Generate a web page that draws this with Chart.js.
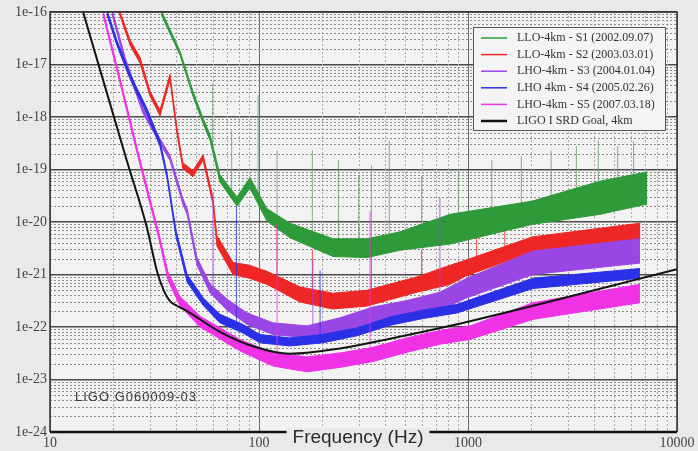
<!DOCTYPE html>
<html><head><meta charset="utf-8">
<script src="https://cdn.jsdelivr.net/npm/chart.js@4.4.0/dist/chart.umd.min.js"></script>
<style>html,body{margin:0;padding:0;background:#e9e9e9;overflow:hidden}</style>
</head><body>
<canvas id="c" width="698" height="451"></canvas>
<script>
// ---- tick labels ----
const xTickValues = [10, 100, 1000, 10000];
const xTickLabels = ['10', '100', '1000', '10000'];
const yTickValues = [1e-24, 1e-23, 1e-22, 1e-21, 1e-20, 1e-19, 1e-18, 1e-17, 1e-16];
const yTickLabels = ['1e-24', '1e-23', '1e-22', '1e-21', '1e-20', '1e-19', '1e-18', '1e-17', '1e-16'];
const minorMultipliers = [2, 3, 4, 5, 6, 7, 8, 9];

const seriesLabels = ['LLO-4km - S1 (2002.09.07)', 'LLO-4km - S2 (2003.03.01)', 'LHO-4km - S3 (2004.01.04)',
  'LHO 4km - S4 (2005.02.26)', 'LHO-4km - S5 (2007.03.18)', 'LIGO I SRD Goal, 4km'];

// ---- S1 (green) ----
const s1Freq  = [34, 41.9, 48.3, 54.0, 58.3, 65.0, 78.5, 90.5, 109, 140.6, 226, 329, 473, 821, 2030, 4282, 7200];
const s1Upper = [1.1e-16, 1.8e-17, 3.1e-18, 9.5e-19, 4.6e-19, 8.0e-20, 3.0e-20, 7.0e-20, 1.8e-20, 9.5e-21, 4.8e-21, 4.8e-21, 6.5e-21, 1.4e-20, 2.5e-20, 6.0e-20, 9.0e-20];
const s1Lower = [0.9e-16, 1.5e-17, 2.5e-18, 7.5e-19, 3.6e-19, 5.8e-20, 2.0e-20, 4.4e-20, 1.05e-20, 5.0e-21, 2.2e-21, 2.1e-21, 2.9e-21, 3.8e-21, 9.0e-21, 1.4e-20, 2.2e-20];
const s1SpikeFreq = [60, 74, 99, 122, 180, 240, 300, 345, 420, 600, 900, 1300, 1800, 2500, 3300, 4200, 5200, 6200];
const s1SpikeLow  = [3e-19, 2.8e-20, 3e-20, 1e-20, 5e-21, 3.5e-21, 3.2e-21, 3.2e-21, 4e-21, 5.5e-21, 7e-21, 9.5e-21, 1.3e-20, 1.8e-20, 2.3e-20, 2.8e-20, 3.4e-20, 4e-20];
const s1SpikeHigh = [4.4e-18, 5.5e-19, 2.6e-18, 2.3e-19, 2.3e-19, 1.5e-19, 7.6e-20, 1.2e-19, 3.5e-19, 7.6e-20, 9.5e-20, 1.5e-19, 1.8e-19, 2.3e-19, 2.8e-19, 3.5e-19, 2.8e-19, 3.5e-19];

// ---- S2 (red) ----
const s2Freq  = [21, 24.2, 27.0, 30.1, 33.6, 37.5, 40.5, 43.2, 48.3, 54.0, 60.2, 62.9, 75.1, 90, 109, 157, 225, 328, 570, 821, 985, 2030, 4282, 6680];
const s2Upper = [1.4e-16, 2.9e-17, 1.35e-17, 3.1e-18, 1.35e-18, 6.5e-18, 6.2e-19, 1.35e-19, 9.5e-20, 1.9e-19, 2.9e-20, 5.5e-21, 1.7e-21, 1.5e-21, 1.15e-21, 5.8e-22, 4.4e-22, 5.0e-22, 9.0e-22, 1.5e-21, 1.9e-21, 5.2e-21, 7.6e-21, 9.5e-21];
const s2Lower = [1.2e-16, 2.3e-17, 1.05e-17, 2.5e-18, 1.05e-18, 5.1e-18, 4.8e-19, 1.05e-19, 7.3e-20, 1.5e-19, 2.2e-20, 3.5e-21, 1.0e-21, 8.5e-22, 6.5e-22, 3.0e-22, 2.2e-22, 2.5e-22, 4.6e-22, 6.5e-22, 9.5e-22, 2.7e-21, 3.9e-21, 4.8e-21];
const s2SpikeFreq = [122, 180, 345, 600, 1100, 1500];
const s2SpikeLow  = [7e-22, 4e-22, 3.4e-22, 6.5e-22, 1.5e-21, 2.3e-21];
const s2SpikeHigh = [9e-21, 3e-21, 4.4e-21, 3e-21, 5e-21, 7e-21];

// ---- S3 (purple) ----
const s3Freq  = [19.8, 22.9, 27.9, 33.6, 37.5, 43.2, 45.3, 50.5, 58.3, 70.3, 87.7, 116.7, 170, 244, 351, 511, 734, 988, 2047, 6650];
const s3Upper = [1.12e-16, 1.35e-17, 1.45e-18, 3.9e-19, 1.85e-19, 2.8e-20, 1.8e-20, 2.1e-21, 6.6e-22, 3.4e-22, 1.85e-22, 1.2e-22, 1.05e-22, 1.5e-22, 2.4e-22, 3.2e-22, 4.6e-22, 8.5e-22, 2.8e-21, 4.8e-21];
const s3Lower = [0.9e-16, 1.07e-17, 1.15e-18, 3.1e-19, 1.48e-19, 2.2e-20, 1.4e-20, 1.5e-21, 4.5e-22, 2.1e-22, 1.12e-22, 7.2e-23, 6.2e-23, 8.2e-23, 1.25e-22, 1.55e-22, 2.1e-22, 3.6e-22, 1.0e-21, 1.65e-21];
const s3SpikeFreq = [60.2, 181, 734];
const s3SpikeLow  = [5e-22, 8e-23, 2.5e-22];
const s3SpikeHigh = [3.5e-20, 2e-21, 2.9e-20];

// ---- S4 (blue) ----
const s4Freq  = [18.7, 20.9, 24.2, 29.1, 33.6, 36.3, 40.0, 45.3, 54.0, 65.0, 83.8, 101, 140.6, 202, 294, 424, 610, 885, 2047, 6650];
const s4Upper = [1.12e-16, 2.9e-17, 6.5e-18, 1.45e-18, 3.5e-19, 8.5e-20, 7.2e-21, 1.0e-21, 3.6e-22, 1.75e-22, 1.12e-22, 7.2e-23, 6.2e-23, 7.2e-23, 9.7e-23, 1.55e-22, 2.1e-22, 2.7e-22, 8.5e-22, 1.3e-21];
const s4Lower = [0.9e-16, 2.3e-17, 5.2e-18, 1.15e-18, 2.75e-19, 6.8e-20, 5.5e-21, 7.2e-22, 2.6e-22, 1.2e-22, 7.7e-23, 5.0e-23, 4.35e-23, 5.0e-23, 6.8e-23, 1.08e-22, 1.45e-22, 1.85e-22, 5.4e-22, 8.5e-22];
const s4SpikeFreq = [78, 196];
const s4SpikeLow  = [9e-23, 5.5e-23];
const s4SpikeHigh = [2e-20, 1.2e-21];

// ---- S5 (magenta) ----
const s5Freq  = [17.9, 21.6, 26.1, 30.1, 33.6, 36.7, 41.9, 52.3, 81.1, 116.7, 170, 244, 351, 511, 734, 1023, 2047, 6650];
const s5Upper = [1.12e-16, 5.6e-18, 2.6e-19, 2.8e-20, 5.0e-21, 1.1e-21, 3.8e-22, 1.6e-22, 5.8e-23, 3.2e-23, 2.7e-23, 3.2e-23, 4.1e-23, 6.2e-23, 8.6e-23, 1.05e-22, 2.9e-22, 6.5e-22];
const s5Lower = [0.9e-16, 4.5e-18, 2.05e-19, 2.2e-20, 3.9e-21, 7.8e-22, 2.5e-22, 1.0e-22, 3.5e-23, 1.8e-23, 1.4e-23, 1.7e-23, 2.2e-23, 3.3e-23, 4.7e-23, 5.8e-23, 1.4e-22, 2.9e-22];
const s5SpikeFreq = [122, 340];
const s5SpikeLow  = [2.5e-23, 3.0e-23];
const s5SpikeHigh = [9e-21, 1.6e-20];

// ---- SRD goal (black) ----
const goalFreq = [14.4, 23.3, 29.1, 32.5, 35.0, 37.5, 40.0, 45.3, 65.0, 93.5, 140.6, 244, 424, 1023, 10000];
const goalStrain = [1e-16, 1.48e-19, 7.8e-21, 1.15e-21, 5.0e-22, 3.1e-22, 2.6e-22, 2.0e-22, 8.1e-23, 4.3e-23, 3.1e-23, 3.9e-23, 6.0e-23, 1.29e-22, 1.26e-21];

const colors = ['#2f9a3a', '#ee2626', '#9a46e4', '#2b30e6', '#f032e6', '#141414'];
const spikeColors = ['rgba(95,150,95,0.75)', 'rgba(238,38,38,0.8)', 'rgba(154,70,228,0.8)', 'rgba(43,48,230,0.8)', 'rgba(240,50,230,0.8)'];

const datasets = [];
function pts(f, v) { return f.map((x, i) => ({ x: x, y: v[i] })); }
function spikePts(f, lo, hi) {
  const d = [];
  f.forEach((x, i) => { d.push({ x: x, y: lo[i] }, { x: x, y: hi[i] }, { x: x, y: null }); });
  return d;
}
function addSeries(k, f, up, lo, sf, sl, sh, order) {
  datasets.push({ label: seriesLabels[k], data: pts(f, up), borderColor: colors[k], backgroundColor: colors[k],
    borderWidth: 1, pointRadius: 0, fill: '+1', order: order, tension: 0 });
  datasets.push({ label: seriesLabels[k] + ' lower', data: pts(f, lo), borderColor: colors[k],
    borderWidth: 1, pointRadius: 0, fill: false, order: order, tension: 0 });
  datasets.push({ label: seriesLabels[k] + ' lines', data: spikePts(sf, sl, sh), borderColor: spikeColors[k],
    borderWidth: 1, pointRadius: 0, fill: false, order: order, spanGaps: false });
}
addSeries(0, s1Freq, s1Upper, s1Lower, s1SpikeFreq, s1SpikeLow, s1SpikeHigh, 6);
addSeries(1, s2Freq, s2Upper, s2Lower, s2SpikeFreq, s2SpikeLow, s2SpikeHigh, 5);
addSeries(2, s3Freq, s3Upper, s3Lower, s3SpikeFreq, s3SpikeLow, s3SpikeHigh, 4);
addSeries(3, s4Freq, s4Upper, s4Lower, s4SpikeFreq, s4SpikeLow, s4SpikeHigh, 3);
addSeries(4, s5Freq, s5Upper, s5Lower, s5SpikeFreq, s5SpikeLow, s5SpikeHigh, 2);
datasets.push({ label: seriesLabels[5], data: pts(goalFreq, goalStrain), borderColor: colors[5],
  borderWidth: 2, pointRadius: 0, fill: false, order: 0, cubicInterpolationMode: 'monotone' });

const bgPlugin = {
  id: 'bg',
  beforeDraw(chart) {
    const { ctx, chartArea: a } = chart;
    ctx.save();
    ctx.fillStyle = '#e9e9e9';
    ctx.fillRect(0, 0, chart.width, chart.height);
    ctx.fillStyle = '#f2f2f2';
    ctx.fillRect(a.left, a.top, a.right - a.left, a.bottom - a.top);
    ctx.restore();
  },
  beforeDatasetsDraw(chart) {
    const { ctx, chartArea: a, scales: { x, y } } = chart;
    ctx.save();
    ctx.lineWidth = 1;
    ctx.setLineDash([2, 2]);
    ctx.strokeStyle = '#a9a9a9';
    for (let i = 0; i < xTickValues.length - 1; i++) {
      minorMultipliers.forEach(m => {
        const px = Math.round(x.getPixelForValue(m * xTickValues[i])) + 0.5;
        ctx.beginPath(); ctx.moveTo(px, a.top); ctx.lineTo(px, a.bottom); ctx.stroke();
      });
    }
    ctx.strokeStyle = '#8c8c8c';
    for (let i = 0; i < yTickValues.length - 1; i++) {
      minorMultipliers.forEach(m => {
        const py = Math.round(y.getPixelForValue(m * yTickValues[i])) + 0.5;
        ctx.beginPath(); ctx.moveTo(a.left, py); ctx.lineTo(a.right, py); ctx.stroke();
      });
    }
    ctx.restore();
  },
  afterDatasetsDraw(chart) {
    const { ctx, chartArea: a } = chart;
    ctx.save();
    // frame
    ctx.strokeStyle = '#333';
    ctx.lineWidth = 1.5;
    ctx.beginPath();
    ctx.moveTo(a.left, a.bottom); ctx.lineTo(a.left, a.top); ctx.lineTo(a.right, a.top); ctx.lineTo(a.right, a.bottom);
    ctx.stroke();
    ctx.strokeStyle = '#111';
    ctx.lineWidth = 2.5;
    ctx.beginPath(); ctx.moveTo(a.left, a.bottom); ctx.lineTo(a.right, a.bottom); ctx.stroke();
    // x axis title over bottom line
    ctx.font = '19px "Liberation Sans", Arial, sans-serif';
    const title = 'Frequency (Hz)';
    const tw = ctx.measureText(title).width;
    const cx = 358;
    ctx.fillStyle = '#e9e9e9';
    ctx.fillRect(cx - tw / 2 - 6, a.bottom - 4, tw + 12, chart.height - a.bottom + 4);
    ctx.fillStyle = '#2a2a2a';
    ctx.textAlign = 'center';
    ctx.textBaseline = 'middle';
    ctx.fillText(title, cx, 438);
    // document id
    ctx.font = '13px "Liberation Sans", Arial, sans-serif';
    try { ctx.letterSpacing = '1px'; } catch (e) {}
    ctx.textAlign = 'left';
    ctx.fillStyle = '#3a3a3a';
    ctx.fillText('LIGO G060009-03', 75, 397);
    try { ctx.letterSpacing = '0px'; } catch (e) {}
    // legend
    const lx = 473, ly = 27, lw = 192, lh = 103;
    ctx.fillStyle = '#f4f4f4';
    ctx.fillRect(lx, ly, lw, lh);
    ctx.strokeStyle = '#555';
    ctx.lineWidth = 1;
    ctx.strokeRect(lx + 0.5, ly + 0.5, lw, lh);
    ctx.font = '12px "Liberation Serif", "Times New Roman", serif';
    ctx.textBaseline = 'middle';
    seriesLabels.forEach((lab, i) => {
      const yy = 38 + i * 16.6;
      ctx.strokeStyle = colors[i];
      ctx.lineWidth = i === 5 ? 2.5 : 1.5;
      ctx.beginPath(); ctx.moveTo(481, yy); ctx.lineTo(507, yy); ctx.stroke();
      ctx.fillStyle = '#333';
      ctx.fillText(lab, 517, yy, 146);
    });
    ctx.restore();
  }
};

new Chart(document.getElementById('c'), {
  type: 'line',
  data: { datasets: datasets },
  options: {
    responsive: false,
    animation: false,
    devicePixelRatio: 1,
    layout: { padding: { left: 0, right: 21, top: 12, bottom: 0 } },
    plugins: { legend: { display: false }, tooltip: { enabled: false } },
    scales: {
      x: {
        type: 'logarithmic', min: 10, max: 10000,
        afterBuildTicks: s => { s.ticks = xTickValues.map(v => ({ value: v })); },
        afterFit: s => { s.height = 19; },
        ticks: { callback: (v, i) => xTickLabels[i], autoSkip: false, maxRotation: 0, padding: 3,
          font: { family: '"Liberation Serif", serif', size: 14 }, color: '#444' },
        grid: { color: '#6a6a6a', lineWidth: 1, drawTicks: false },
        border: { display: false }
      },
      y: {
        type: 'logarithmic', min: 1e-24, max: 1e-16,
        afterBuildTicks: s => { s.ticks = yTickValues.map(v => ({ value: v })); },
        afterFit: s => { s.width = 50; },
        ticks: { callback: (v, i) => yTickLabels[i], autoSkip: false, padding: 3,
          font: { family: '"Liberation Serif", serif', size: 14 }, color: '#444' },
        grid: { color: '#4a4a4a', lineWidth: 1.5, drawTicks: false },
        border: { display: false }
      }
    }
  },
  plugins: [bgPlugin]
});
</script>
</body></html>
